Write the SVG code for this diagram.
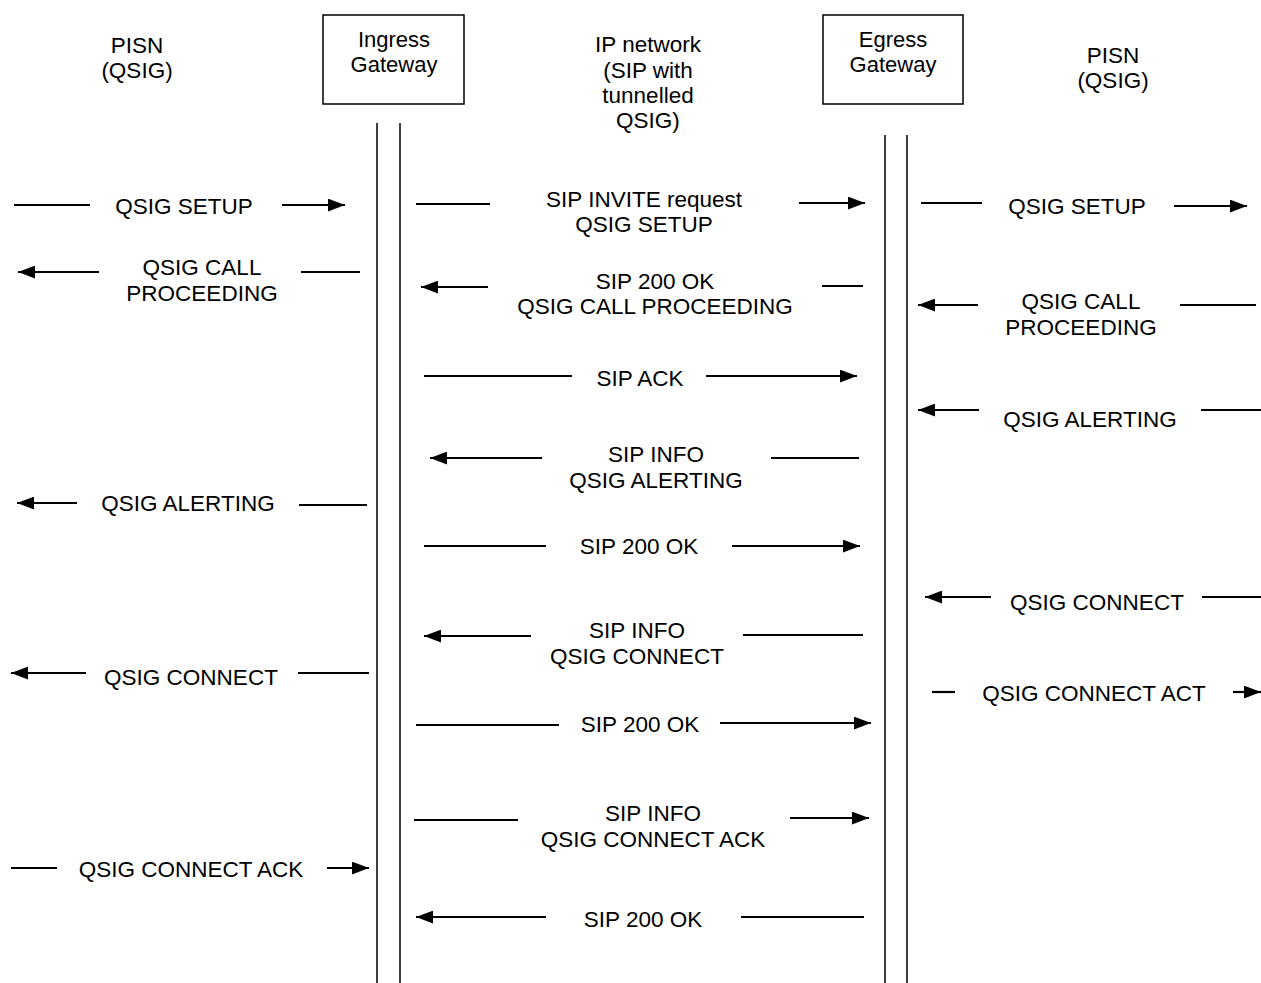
<svg xmlns="http://www.w3.org/2000/svg" width="1261" height="983" viewBox="0 0 1261 983">
<style>
text{font-family:"Liberation Sans",Arial,sans-serif;font-size:22.5px;fill:#000;text-anchor:middle}
.h{font-size:22px}
.m{stroke:#000;stroke-width:2.2;fill:none}
.a{stroke:#000;stroke-width:2.2;fill:none;marker-end:url(#ah)}
.life{stroke:#000;stroke-width:1.5}
.box{fill:#fff;stroke:#000;stroke-width:1.5}
</style>
<defs>
<marker id="ah" markerUnits="userSpaceOnUse" markerWidth="17" markerHeight="13" refX="16" refY="6" orient="auto" viewBox="0 0 16 12">
<path d="M0,0 L16,6 L0,12 z" fill="#000"/>
</marker>
</defs>
<rect width="1261" height="983" fill="#fff"/>

<g id="pisn-left"><text x="137" y="53">PISN</text><text x="137" y="78">(QSIG)</text></g>
<g id="ingress"><rect class="box" x="323" y="15" width="141" height="89"/><text class="h" x="394" y="47">Ingress</text><text class="h" x="394" y="72">Gateway</text>
<line class="life" x1="377" y1="123" x2="377" y2="983"/><line class="life" x1="400" y1="123" x2="400" y2="983"/></g>
<g id="ip-network"><text x="648" y="52">IP network</text><text x="648" y="78">(SIP with</text><text x="648" y="103">tunnelled</text><text x="648" y="128">QSIG)</text></g>
<g id="egress"><rect class="box" x="823" y="15" width="140" height="89"/><text class="h" x="893" y="47">Egress</text><text class="h" x="893" y="72">Gateway</text>
<line class="life" x1="885" y1="135" x2="885" y2="983"/><line class="life" x1="907" y1="135" x2="907" y2="983"/></g>
<g id="pisn-right"><text x="1113" y="63">PISN</text><text x="1113" y="88">(QSIG)</text></g>

<g id="connectors">
<line class="m" x1="14" y1="205" x2="90" y2="205"/><line class="a" x1="282" y1="205" x2="345" y2="205"/>
<line class="m" x1="416" y1="204" x2="490" y2="204"/><line class="a" x1="799" y1="203" x2="865" y2="203"/>
<line class="m" x1="921" y1="203" x2="982" y2="203"/><line class="a" x1="1174" y1="206" x2="1247" y2="206"/>

<line class="a" x1="99" y1="272" x2="18" y2="272"/><line class="m" x1="301" y1="272" x2="360" y2="272"/>
<line class="a" x1="488" y1="287" x2="421" y2="287"/><line class="m" x1="822" y1="286" x2="863" y2="286"/>
<line class="a" x1="978" y1="305" x2="918" y2="305"/><line class="m" x1="1180" y1="305" x2="1256" y2="305"/>

<line class="m" x1="424" y1="376" x2="572" y2="376"/><line class="a" x1="706" y1="376" x2="857" y2="376"/>
<line class="a" x1="979" y1="410" x2="918" y2="410"/><line class="m" x1="1201" y1="410" x2="1261" y2="410"/>
<line class="a" x1="542" y1="458" x2="430" y2="458"/><line class="m" x1="771" y1="458" x2="859" y2="458"/>
<line class="a" x1="77" y1="503" x2="17" y2="503"/><line class="m" x1="299" y1="505" x2="367" y2="505"/>
<line class="m" x1="424" y1="546" x2="546" y2="546"/><line class="a" x1="732" y1="546" x2="860" y2="546"/>
<line class="a" x1="991" y1="597" x2="925" y2="597"/><line class="m" x1="1202" y1="597" x2="1261" y2="597"/>
<line class="a" x1="531" y1="636" x2="424" y2="636"/><line class="m" x1="743" y1="635" x2="863" y2="635"/>
<line class="a" x1="86" y1="673" x2="11" y2="673"/><line class="m" x1="298" y1="673" x2="369" y2="673"/>
<line class="m" x1="932" y1="692" x2="955" y2="692"/><line class="a" x1="1233" y1="692" x2="1261" y2="692"/>
<line class="m" x1="416" y1="725" x2="559" y2="725"/><line class="a" x1="720" y1="723" x2="871" y2="723"/>
<line class="m" x1="414" y1="820" x2="518" y2="820"/><line class="a" x1="790" y1="818" x2="869" y2="818"/>
<line class="m" x1="11" y1="868" x2="57" y2="868"/><line class="a" x1="327" y1="868" x2="369" y2="868"/>
<line class="a" x1="546" y1="917" x2="416" y2="917"/><line class="m" x1="741" y1="917" x2="864" y2="917"/>
</g>

<g id="labels">
<text x="184" y="214">QSIG SETUP</text>
<text x="644" y="207">SIP INVITE request</text><text x="644" y="232">QSIG SETUP</text>
<text x="1077" y="214">QSIG SETUP</text>
<text x="202" y="275">QSIG CALL</text><text x="202" y="301">PROCEEDING</text>
<text x="655" y="289">SIP 200 OK</text><text x="655" y="314">QSIG CALL PROCEEDING</text>
<text x="1081" y="309">QSIG CALL</text><text x="1081" y="335">PROCEEDING</text>
<text x="640" y="386">SIP ACK</text>
<text x="1090" y="427">QSIG ALERTING</text>
<text x="656" y="462">SIP INFO</text><text x="656" y="488">QSIG ALERTING</text>
<text x="188" y="511">QSIG ALERTING</text>
<text x="639" y="554">SIP 200 OK</text>
<text x="1097" y="610">QSIG CONNECT</text>
<text x="637" y="638">SIP INFO</text><text x="637" y="664">QSIG CONNECT</text>
<text x="191" y="685">QSIG CONNECT</text>
<text x="1094" y="701">QSIG CONNECT ACT</text>
<text x="640" y="732">SIP 200 OK</text>
<text x="653" y="821">SIP INFO</text><text x="653" y="847">QSIG CONNECT ACK</text>
<text x="191" y="877">QSIG CONNECT ACK</text>
<text x="643" y="927">SIP 200 OK</text>
</g>
</svg>
